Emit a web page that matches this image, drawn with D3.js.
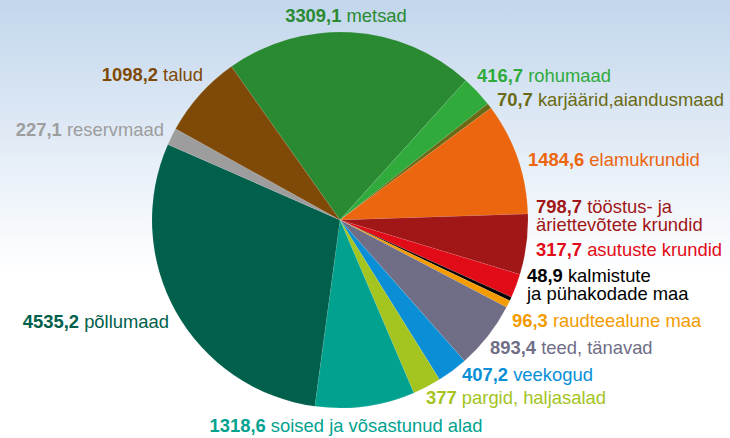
<!DOCTYPE html>
<html>
<head>
<meta charset="utf-8">
<script src="https://cdn.jsdelivr.net/npm/d3@7"></script>
<style>
  body { margin: 0; }
  svg { display: block; font-family: "Liberation Sans", Arial, sans-serif; }
</style>
</head>
<body>
<div id="chart"></div>
<script>
// maakasutus, väärtused pildilt
var names = ["metsad", "rohumaad", "karjäärid,aiandusmaad", "elamukrundid",
  "tööstus- ja|äriettevõtete krundid", "asutuste krundid", "kalmistute|ja pühakodade maa",
  "raudteealune maa", "teed, tänavad", "veekogud", "pargid, haljasalad",
  "soised ja võsastunud alad", "põllumaad", "reservmaad", "talud"];
var values = [3309.1, 416.7, 70.7, 1484.6, 798.7, 317.7, 48.9, 96.3, 893.4, 407.2, 377,
  1318.6, 4535.2, 227.1, 1098.2];
var colors = ["#2a8a32", "#2faa3b", "#6b6a14", "#ec650f", "#a11616", "#e20c18", "#000000",
  "#f39b00", "#6f6e86", "#0a8fd6", "#a4c41f", "#00a28f", "#00604b", "#9d9d9d", "#7f4a07"];

// sildi asukohad (x, y baseline, ankur) -- käsitsi paika pandud nagu originaalis
var labelPos = [
  [346, 22, "middle"], [477, 82, "start"], [497, 106, "start"], [528, 166, "start"],
  [536, 213, "start"], [536, 256, "start"], [527, 282, "start"], [512, 327, "start"],
  [490, 354, "start"], [462, 381, "start"], [426, 404, "start"], [346, 432, "middle"],
  [169, 328, "end"], [164, 136, "end"], [203, 81, "end"]
];

var width = 730, height = 438;
var cx = 340, cy = 220, radius = 188;

var svg = d3.select("#chart").append("svg")
  .attr("width", width)
  .attr("height", height);

var grad = svg.append("defs").append("linearGradient")
  .attr("id", "bg").attr("x1", 0).attr("y1", 0).attr("x2", 0).attr("y2", 1);
grad.append("stop").attr("offset", "0").attr("stop-color", "#c2d6ec");
grad.append("stop").attr("offset", "0.62").attr("stop-color", "#ffffff");
grad.append("stop").attr("offset", "1").attr("stop-color", "#ffffff");

svg.append("rect").attr("width", width).attr("height", height).attr("fill", "url(#bg)");

var start = -35.3 * Math.PI / 180;
var pie = d3.pie().sort(null)
  .startAngle(start).endAngle(start + 2 * Math.PI)
  .value(function (d) { return d; });
var arc = d3.arc().innerRadius(0).outerRadius(radius);

var g = svg.append("g").attr("transform", "translate(" + cx + "," + cy + ")");
g.selectAll("path")
  .data(pie(values))
  .enter().append("path")
  .attr("d", arc)
  .attr("fill", function (d, i) { return colors[i]; })
  .attr("stroke", "rgba(255,255,255,0.2)")
  .attr("stroke-width", 0.4);

var fmt = function (v) { return String(v).replace(".", ","); };

names.forEach(function (n, i) {
  var p = labelPos[i];
  var lines = n.split("|");
  var t = svg.append("text")
    .attr("x", p[0]).attr("y", p[1])
    .attr("text-anchor", p[2])
    .attr("font-size", "18.4px")
    .attr("fill", colors[i]);
  t.append("tspan").attr("font-weight", "bold").text(fmt(values[i]));
  t.append("tspan").text(" " + lines[0]);
  // teine rida eraldi tekstina
  if (lines.length > 1) {
    svg.append("text")
      .attr("x", p[0]).attr("y", p[1] + 18)
      .attr("text-anchor", p[2])
      .attr("font-size", "18.4px")
      .attr("fill", colors[i])
      .text(lines[1]);
  }
});
</script>
</body>
</html>
